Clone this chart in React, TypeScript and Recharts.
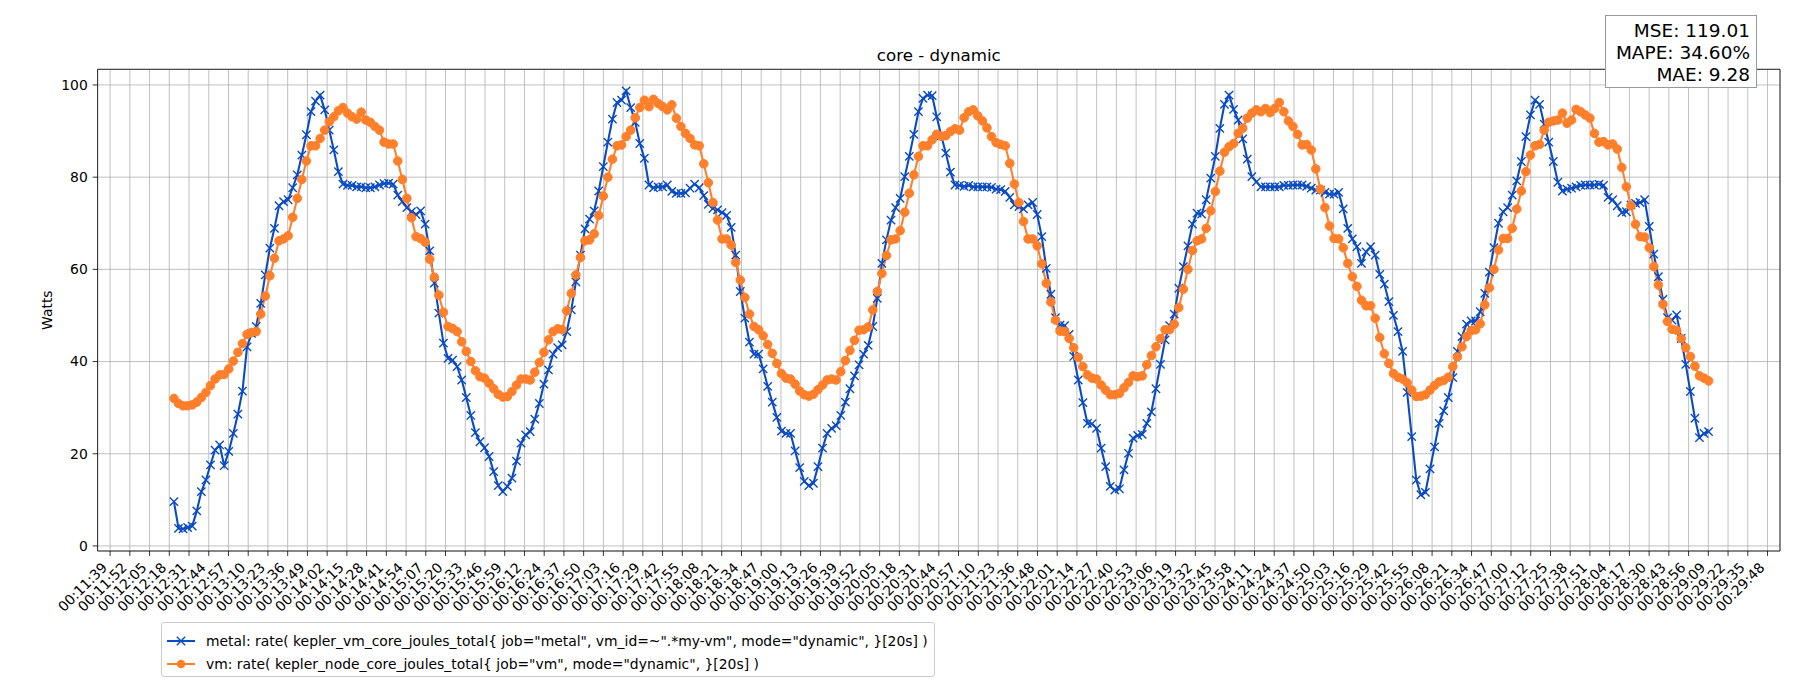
import React from 'react';
import { LineChart, Line, XAxis, YAxis, CartesianGrid, ReferenceArea } from 'recharts';

// ---------- data ----------
const START_SECONDS = 741.8; // first sample (00:12:21.8)
const STEP_SECONDS = 3;

const METAL = [
  9.6, 3.8, 3.7, 4.0, 4.3, 7.6, 11.8, 14.3, 17.6, 20.8, 21.9, 17.4, 20.5, 24.4, 28.6, 33.6, 43.2, 46.1, 47.6, 52.6,
  58.8, 64.6, 68.9, 73.8, 74.7, 75.1, 77.7, 80.5, 84.8, 89.2, 94.2, 96.5, 97.8, 94.6, 90.2, 85.9, 81.2, 78.5, 78.2, 78.2,
  77.9, 77.9, 77.7, 77.7, 77.9, 78.3, 78.6, 78.7, 78.5, 76.1, 74.7, 73.4, 72.5, 71.9, 72.7, 69.8, 64.0, 57.0, 50.5, 44.0,
  40.7, 40.3, 38.9, 36.0, 32.2, 28.3, 24.6, 22.6, 21.3, 19.4, 16.1, 13.1, 11.8, 12.9, 14.7, 18.4, 22.3, 24.1, 24.8, 27.5,
  30.9, 35.1, 38.2, 41.6, 43.0, 43.6, 46.5, 51.2, 57.3, 63.1, 68.8, 70.9, 72.7, 77.0, 82.3, 87.6, 92.6, 96.2, 96.7, 98.7,
  95.1, 91.9, 87.3, 84.1, 78.3, 77.7, 77.9, 77.9, 78.3, 76.9, 76.5, 76.5, 76.6, 77.6, 78.5, 77.7, 76.0, 74.1, 73.2, 72.9,
  72.3, 71.7, 69.1, 63.1, 55.2, 49.4, 44.2, 41.6, 41.6, 38.4, 34.6, 31.2, 27.9, 24.9, 24.4, 24.4, 20.6, 17.0, 14.0, 13.1,
  13.6, 17.2, 21.2, 24.4, 25.5, 26.1, 28.3, 31.2, 34.1, 36.9, 39.3, 41.6, 43.5, 47.6, 53.7, 61.3, 66.4, 70.7, 73.4, 75.4,
  80.1, 84.5, 89.3, 94.2, 97.1, 97.8, 97.7, 93.1, 89.0, 85.2, 81.1, 78.3, 78.2, 78.0, 78.2, 77.9, 77.9, 77.9, 77.9, 77.8,
  77.4, 77.3, 76.9, 75.6, 74.0, 73.6, 73.1, 74.0, 74.5, 71.9, 67.1, 60.2, 54.6, 49.5, 47.9, 47.8, 45.9, 41.1, 36.0, 31.1,
  26.6, 26.5, 25.5, 21.2, 17.2, 12.9, 12.1, 12.4, 16.5, 20.1, 23.4, 24.0, 24.2, 26.6, 29.1, 34.1, 39.4, 44.7, 47.8, 50.3,
  55.9, 60.6, 65.1, 69.8, 72.2, 72.0, 75.1, 79.8, 84.5, 90.6, 95.8, 97.8, 94.7, 92.4, 88.3, 83.9, 80.1, 79.0, 77.9, 77.9,
  77.9, 77.9, 77.9, 78.2, 78.2, 78.3, 78.3, 78.3, 78.0, 77.6, 77.2, 77.2, 76.7, 76.3, 76.3, 76.7, 73.1, 68.9, 66.6, 64.9,
  61.3, 63.8, 64.9, 63.1, 58.9, 56.8, 53.0, 50.0, 46.5, 42.2, 33.3, 23.7, 14.3, 11.1, 11.6, 16.7, 21.5, 26.6, 29.3, 32.2,
  36.5, 42.2, 45.4, 48.1, 48.8, 48.8, 50.8, 54.8, 59.4, 64.7, 70.0, 72.5, 73.4, 76.1, 79.2, 83.4, 88.8, 93.5, 96.7, 95.8,
  91.5, 87.6, 83.4, 78.9, 77.0, 77.4, 77.6, 77.9, 78.2, 78.3, 78.3, 78.3, 78.5, 78.2, 75.6, 75.1, 73.8, 72.3, 72.5, 74.0,
  74.3, 74.5, 75.1, 69.3, 63.3, 58.4, 53.5, 49.5, 49.0, 50.1, 45.0, 39.4, 33.5, 27.7, 23.5, 24.4, 24.8,
];

const VM = [
  32.0, 30.9, 30.4, 30.4, 30.6, 31.2, 32.2, 33.3, 34.8, 36.2, 37.1, 37.2, 38.4, 40.1, 42.0, 43.9, 45.9, 46.3, 46.5, 50.3,
  54.2, 58.6, 62.4, 66.2, 66.6, 67.3, 71.3, 75.4, 79.5, 83.5, 86.8, 86.8, 88.4, 90.2, 92.0, 93.1, 94.4, 95.1, 93.9, 93.1,
  92.6, 94.1, 92.4, 91.9, 91.0, 90.2, 87.6, 87.2, 87.2, 83.5, 79.5, 75.4, 71.2, 67.1, 66.7, 65.9, 62.2, 58.3, 54.4, 50.7,
  47.6, 47.2, 46.5, 44.3, 42.2, 40.0, 38.0, 36.7, 36.4, 35.3, 34.1, 32.9, 32.3, 32.4, 33.5, 34.9, 36.2, 36.2, 36.0, 37.7,
  39.8, 42.0, 44.7, 46.5, 47.1, 46.9, 51.0, 54.8, 58.8, 62.6, 66.2, 66.4, 67.7, 71.7, 75.9, 80.0, 83.9, 86.8, 87.0, 88.8,
  90.2, 92.9, 95.1, 96.7, 95.3, 96.9, 96.0, 95.3, 94.6, 95.7, 92.8, 91.0, 89.5, 88.4, 87.0, 86.8, 82.9, 78.8, 74.5, 70.7,
  66.6, 66.6, 65.3, 61.5, 57.7, 53.9, 50.3, 47.6, 46.9, 45.6, 43.7, 41.8, 39.6, 37.4, 36.4, 36.2, 35.1, 33.6, 32.8, 32.5,
  32.9, 33.9, 34.9, 36.0, 36.2, 36.0, 37.8, 40.2, 42.4, 44.6, 46.8, 46.9, 47.5, 51.2, 55.2, 59.1, 63.0, 66.4, 66.6, 68.4,
  72.4, 76.5, 80.5, 84.5, 86.8, 86.8, 88.1, 89.3, 88.9, 89.0, 89.9, 90.5, 90.2, 92.9, 94.2, 94.6, 93.3, 92.2, 90.7, 88.8,
  87.5, 87.1, 86.8, 83.0, 78.5, 74.5, 70.4, 66.6, 66.6, 65.1, 61.2, 57.0, 52.9, 49.0, 46.6, 46.5, 45.0, 43.0, 40.9, 38.9,
  37.1, 36.4, 36.2, 34.9, 33.8, 32.8, 32.8, 33.1, 34.3, 35.5, 36.9, 36.7, 36.9, 39.3, 41.3, 43.2, 45.0, 46.9, 46.9, 48.1,
  51.7, 55.7, 60.0, 64.1, 66.2, 66.6, 68.9, 72.7, 76.9, 81.3, 85.4, 86.6, 87.3, 89.5, 90.6, 92.8, 93.9, 94.6, 94.2, 94.9,
  94.0, 94.9, 96.2, 94.2, 92.2, 91.0, 89.3, 87.0, 87.1, 85.9, 81.8, 77.4, 73.4, 69.4, 66.7, 66.6, 64.7, 61.3, 58.4, 56.3,
  53.3, 52.1, 52.1, 49.4, 45.2, 41.7, 39.6, 37.4, 36.6, 36.2, 35.4, 33.8, 32.4, 32.5, 32.8, 33.8, 34.8, 35.6, 35.9, 36.6,
  38.9, 41.0, 43.2, 45.4, 46.7, 46.9, 48.2, 52.3, 56.0, 60.0, 64.2, 66.7, 66.7, 68.9, 73.1, 77.0, 81.2, 84.8, 86.8, 87.1,
  90.2, 91.9, 92.2, 92.4, 93.9, 91.7, 92.4, 94.7, 94.2, 93.5, 92.8, 89.5, 87.6, 87.7, 87.0, 87.2, 86.1, 82.1, 77.9, 73.8,
  69.8, 67.1, 67.0, 64.7, 60.6, 56.6, 52.4, 48.7, 47.0, 46.8, 45.0, 43.0, 41.1, 39.0, 36.9, 36.4, 35.8,
];

const TICK_LABELS = [
  '00:11:39', '00:11:52', '00:12:05', '00:12:18', '00:12:31', '00:12:44', '00:12:57', '00:13:10', '00:13:23', '00:13:36',
  '00:13:49', '00:14:02', '00:14:15', '00:14:28', '00:14:41', '00:14:54', '00:15:07', '00:15:20', '00:15:33', '00:15:46',
  '00:15:59', '00:16:12', '00:16:24', '00:16:37', '00:16:50', '00:17:03', '00:17:16', '00:17:29', '00:17:42', '00:17:55',
  '00:18:08', '00:18:21', '00:18:34', '00:18:47', '00:19:00', '00:19:13', '00:19:26', '00:19:39', '00:19:52', '00:20:05',
  '00:20:18', '00:20:31', '00:20:44', '00:20:57', '00:21:10', '00:21:23', '00:21:36', '00:21:48', '00:22:01', '00:22:14',
  '00:22:27', '00:22:40', '00:22:53', '00:23:06', '00:23:19', '00:23:32', '00:23:45', '00:23:58', '00:24:11', '00:24:24',
  '00:24:37', '00:24:50', '00:25:03', '00:25:16', '00:25:29', '00:25:42', '00:25:55', '00:26:08', '00:26:21', '00:26:34',
  '00:26:47', '00:27:00', '00:27:12', '00:27:25', '00:27:38', '00:27:51', '00:28:04', '00:28:17', '00:28:30', '00:28:43',
  '00:28:56', '00:29:09', '00:29:22', '00:29:35', '00:29:48',
];
const TICK_START = 699.86; // seconds of first tick
const TICK_STEP = 12.96;

const Y_TICKS = [0, 20, 40, 60, 80, 100];
const TITLE = 'core - dynamic';
const Y_LABEL = 'Watts';
const METRICS = ['MSE: 119.01', 'MAPE: 34.60%', 'MAE: 9.28'];
const METAL_NAME = 'metal: rate( kepler_vm_core_joules_total{ job="metal", vm_id=~".*my-vm", mode="dynamic", }[20s] )';
const VM_NAME = 'vm: rate( kepler_node_core_joules_total{ job="vm", mode="dynamic", }[20s] )';

// ---------- layout / style ----------
const W = 1800;
const H = 700;
const PLOT_LEFT = 97.6;
const PLOT_TOP = 69.3;
const PLOT_RIGHT = 1780;
const PLOT_BOTTOM = 551;
const Y_AXIS_W = 60;
const X_AXIS_H = 80;
const X_DOMAIN: [number, number] = [691.65, 1796.7];
const Y_DOMAIN: [number, number] = [-1.1, 103.4];
const FONT = '"DejaVu Sans", "Liberation Sans", sans-serif';
const FS = 13.9;
const BLUE = '#0a4bc4';
const ORANGE = '#ff7f2a';
const GRID = '#b0b0b0';

const tickValues = TICK_LABELS.map((_, k) => TICK_START + k * TICK_STEP);
const rows = METAL.map((m, i) => ({ t: START_SECONDS + i * STEP_SECONDS, metal: m, vm: VM[i] }));

const XTick = (props: any) => {
  const { x, payload } = props;
  const idx = Math.round((payload.value - TICK_START) / TICK_STEP);
  const ax = x - 2;
  const ay = PLOT_BOTTOM + 17.4;
  return (
    <text x={ax} y={ay} transform={`rotate(-45 ${ax} ${ay})`} textAnchor="end" fontSize={FS} fontFamily={FONT} fill="#000">
      {TICK_LABELS[idx]}
    </text>
  );
};

const XMarker = (props: any) => {
  const { cx, cy, index } = props;
  if (cx == null || cy == null) return <g key={`mx-${index}`} />;
  const r = 4.15;
  return (
    <path
      key={`mx-${index}`}
      d={`M${cx - r},${cy - r}L${cx + r},${cy + r}M${cx - r},${cy + r}L${cx + r},${cy - r}`}
      stroke={BLUE}
      strokeWidth={1.4}
      fill="none"
    />
  );
};

const OMarker = (props: any) => {
  const { cx, cy, index } = props;
  if (cx == null || cy == null) return <g key={`mo-${index}`} />;
  return <circle key={`mo-${index}`} cx={cx} cy={cy} r={4.3} fill={ORANGE} stroke={ORANGE} strokeWidth={1} />;
};

const LegendIcon = ({ kind }: { kind: 'x' | 'o' }) => (
  <svg width={30} height={14} style={{ display: 'block' }}>
    <line x1={1} y1={7} x2={29} y2={7} stroke={kind === 'x' ? BLUE : ORANGE} strokeWidth={2.08} />
    {kind === 'x' ? (
      <path d="M10.85,2.85L19.15,11.15M10.85,11.15L19.15,2.85" stroke={BLUE} strokeWidth={1.4} />
    ) : (
      <circle cx={15} cy={7} r={4.3} fill={ORANGE} />
    )}
  </svg>
);

export default function App() {
  return (
    <div style={{ position: 'absolute', left: 0, top: 0, width: W, height: H, background: '#fff', fontFamily: FONT }}>
      <LineChart
        width={W}
        height={H}
        data={rows}
        margin={{
          top: PLOT_TOP,
          left: PLOT_LEFT - Y_AXIS_W,
          right: W - PLOT_RIGHT,
          bottom: H - PLOT_BOTTOM - X_AXIS_H,
        }}
      >
        <CartesianGrid stroke={GRID} strokeWidth={0.8} />
        <XAxis
          dataKey="t"
          type="number"
          domain={X_DOMAIN}
          allowDataOverflow
          ticks={tickValues}
          interval={0}
          height={X_AXIS_H}
          axisLine={false}
          tickSize={4.9}
          tickLine={{ stroke: '#000', strokeWidth: 0.8 }}
          tick={<XTick />}
        />
        <YAxis
          type="number"
          domain={Y_DOMAIN}
          allowDataOverflow
          ticks={Y_TICKS}
          interval={0}
          width={Y_AXIS_W}
          axisLine={false}
          tickSize={4.9}
          tickMargin={4.9}
          tickLine={{ stroke: '#000', strokeWidth: 0.8 }}
          tick={{ fontSize: FS, fill: '#000', fontFamily: FONT }}
        />
        <Line
          type="linear"
          dataKey="metal"
          name={METAL_NAME}
          stroke={BLUE}
          strokeWidth={2.08}
          dot={XMarker}
          activeDot={false}
          isAnimationActive={false}
        />
        <Line
          type="linear"
          dataKey="vm"
          name={VM_NAME}
          stroke={ORANGE}
          strokeWidth={2.08}
          dot={OMarker}
          activeDot={false}
          isAnimationActive={false}
        />
        <ReferenceArea
          x1={X_DOMAIN[0]}
          x2={X_DOMAIN[1]}
          y1={Y_DOMAIN[0]}
          y2={Y_DOMAIN[1]}
          fill="none"
          fillOpacity={0}
          stroke="#000"
          strokeWidth={0.8}
          ifOverflow="visible"
        />
      </LineChart>

      <svg width={W} height={H} style={{ position: 'absolute', left: 0, top: 0, pointerEvents: 'none' }}>
        <text x={(PLOT_LEFT + PLOT_RIGHT) / 2} y={PLOT_TOP - 8.3} textAnchor="middle" fontSize={16.67} fontFamily={FONT} fill="#000">
          {TITLE}
        </text>
        <text x={52} y={(PLOT_TOP + PLOT_BOTTOM) / 2} transform={`rotate(-90 52 ${(PLOT_TOP + PLOT_BOTTOM) / 2})`} textAnchor="middle" fontSize={FS} fontFamily={FONT} fill="#000">
          {Y_LABEL}
        </text>
      </svg>

      <div
        style={{
          position: 'absolute',
          left: 1605,
          top: 15,
          width: 152,
          height: 73,
          boxSizing: 'border-box',
          border: '1px solid #999',
          background: '#fff',
          textAlign: 'right',
          fontSize: 18.5,
          lineHeight: '21.8px',
          padding: '4px 6px 0 0',
          color: '#000',
          fontFamily: FONT,
        }}
      >
        {METRICS.map((m) => (
          <div key={m}>{m}</div>
        ))}
      </div>

      <div
        style={{
          position: 'absolute',
          left: 161,
          top: 622,
          width: 774,
          height: 55,
          boxSizing: 'border-box',
          border: '1px solid #cccccc',
          borderRadius: 3,
          background: 'rgba(255,255,255,0.8)',
          fontFamily: FONT,
          fontSize: FS,
          color: '#000',
        }}
      >
        {[{ kind: 'x' as const, name: METAL_NAME, cy: 18 }, { kind: 'o' as const, name: VM_NAME, cy: 41 }].map((r) => (
          <div key={r.name} style={{ position: 'absolute', left: 4, top: r.cy - 7, height: 14, display: 'flex', alignItems: 'center', whiteSpace: 'nowrap' }}>
            <LegendIcon kind={r.kind} />
            <span style={{ marginLeft: 10, lineHeight: '14px' }}>{r.name}</span>
          </div>
        ))}
      </div>
    </div>
  );
}
